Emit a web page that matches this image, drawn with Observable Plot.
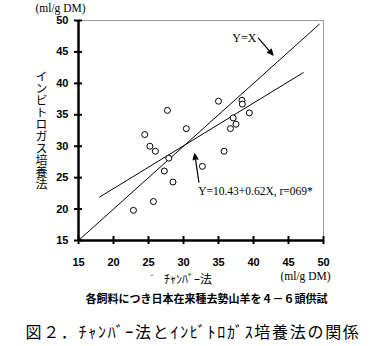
<!DOCTYPE html>
<html><head><meta charset="utf-8">
<script src="https://cdn.jsdelivr.net/npm/d3@7"></script>
<script src="https://cdn.jsdelivr.net/npm/@observablehq/plot@0.6"></script>
<style>
body{margin:0;background:#fff;width:386px;overflow:hidden;}
#chart svg{display:block;}
.cap{font-family:"Noto Sans CJK JP";font-weight:bold;font-size:11px;line-height:16px;height:16px;margin-top:0px;padding-left:27px;text-align:center;color:#000;white-space:nowrap;}
.title{font-family:"Noto Sans CJK JP";font-weight:normal;font-size:16px;line-height:20px;height:20px;margin-top:15px;letter-spacing:1.7px;text-align:center;color:#000;white-space:nowrap;}
</style></head><body>
<div id="chart"></div>
<div class="cap" id="cap"></div>
<div class="title" id="title"></div>
<script>
// Data
const chamber = [22.85,25.7,24.46,25.2,25.98,27.7,27.9,27.26,28.5,30.4,32.7,35.0,35.8,36.7,37.1,37.5,38.35,38.4,39.4];
const invitro = [19.8,21.2,31.85,30.0,29.2,35.7,28.1,26.05,24.3,32.8,26.8,37.16,29.2,32.8,34.5,33.5,37.3,36.7,35.3];
const ticks = [15,20,25,30,35,40,45,50];
const identityX = [15, 49.4];
const identityY = [15, 49.4];
const regX = [18, 47.1];
const regY = [21.9, 41.7];
const arrowX1 = [40.7, 32.2];
const arrowY1 = [47.2, 24.3];
const arrowX2 = [42.8, 31.6];
const arrowY2 = [44.5, 28.8];
const noteText = ["Y=X", "Y=10.43+0.62X, r=069*"];
const noteX = [38.7, 32.1];
const noteY = [47.2, 22.8];
const noteAnchor = ["middle", "start"];
const yLabel = "インビトロガス培養法";
const xLabel = "ﾁｬﾝﾊﾞｰ法";
const unitLabel = "(ml/g DM)";
const caption = "各飼料につき日本在来種去勢山羊を４－６頭供試";
const title = "図２．ﾁｬﾝﾊﾞｰ法とｲﾝﾋﾞﾄﾛｶﾞｽ培養法の関係";

const pts = chamber.map((x, i) => ({x, y: invitro[i]}));
const idLine = identityX.map((x, i) => ({x, y: identityY[i]}));
const regLine = regX.map((x, i) => ({x, y: regY[i]}));
const arrows = arrowX1.map((x1, i) => ({x1, y1: arrowY1[i], x2: arrowX2[i], y2: arrowY2[i]}));
const notes = noteText.map((t, i) => ({t, x: noteX[i], y: noteY[i], a: noteAnchor[i]}));

const serif = "'Liberation Serif', 'DejaVu Serif', serif";
const mid = {textAnchor: "middle", lineAnchor: "middle", fill: "#000"};
const plot = Plot.plot({
  width: 386,
  height: 290,
  marginLeft: 78,
  marginRight: 63,
  marginTop: 20,
  marginBottom: 50,
  style: {fontFamily: "'Liberation Sans', Arial, sans-serif", fontSize: "11px", color: "#000", background: "#fff"},
  x: {domain: [15, 50], axis: null},
  y: {domain: [15, 50], axis: null},
  marks: [
    Plot.frame({stroke: "#999", strokeWidth: 1}),
    Plot.line(idLine, {x: "x", y: "y", stroke: "#000", strokeWidth: 1}),
    Plot.line(regLine, {x: "x", y: "y", stroke: "#000", strokeWidth: 1}),
    Plot.dot(pts, {x: "x", y: "y", r: 3, stroke: "#000", fill: "#fff", strokeWidth: 1}),
    Plot.arrow(arrows, {x1: "x1", y1: "y1", x2: "x2", y2: "y2", stroke: "#000", fill: "#000", strokeWidth: 1.2,
      headLength: 8, headAngle: 45}),
    Plot.ruleX([15], {stroke: "#000", strokeWidth: 2.5}),
    Plot.ruleY([15], {stroke: "#000", strokeWidth: 2.5}),
    Plot.axisX({ticks, label: null, tickSize: 8, dy: -4, tickPadding: 14, strokeWidth: 2, stroke: "#000",
      fontWeight: "bold", fontSize: 11, fill: "#000"}),
    Plot.axisY({ticks, label: null, tickSize: 8, dx: 4, tickPadding: 6, strokeWidth: 2, stroke: "#000",
      fontWeight: "bold", fontSize: 11, fill: "#000"}),
    Plot.text(notes, {x: "x", y: "y", text: "t", textAnchor: "start", fontFamily: serif, fontSize: 11.5, fill: "#000",
      filter: d => d.a === "start"}),
    Plot.text(notes, {x: "x", y: "y", text: "t", textAnchor: "middle", fontFamily: serif, fontSize: 12, fill: "#000",
      filter: d => d.a === "middle"}),
    Plot.text([yLabel], {textAnchor: "middle", fill: "#000", text: d => d, frameAnchor: "left", dx: -37, dy: -4,
      fontFamily: "'Noto Sans CJK JP'", fontSize: 12, letterSpacing: 0.3}),
    Plot.text([unitLabel], {...mid, text: d => d, frameAnchor: "top-left", dx: -18, dy: -12, fontFamily: serif, fontSize: 11.5}),
    Plot.text([unitLabel], {...mid, text: d => d, frameAnchor: "bottom-right", dx: -18, dy: 36, fontFamily: serif, fontSize: 11.5}),
    Plot.text([xLabel], {...mid, text: d => d, frameAnchor: "bottom", dx: -13, dy: 40, fontFamily: "'Noto Sans CJK JP'", fontSize: 12}),
    Plot.text(["ﾞ"], {...mid, text: d => d, frameAnchor: "bottom", dx: -48, dy: 39, fontFamily: "'Noto Sans CJK JP'", fontSize: 10, fill: "#555"})
  ]
});
// write the y-axis title vertically (upright characters), as in the reference
d3.select(plot).selectAll("text").filter(function () { return this.textContent === yLabel; })
  .style("writing-mode", "vertical-rl")
  .style("text-orientation", "upright")
  .attr("dy", null)
  .style("dominant-baseline", "central");
document.getElementById("chart").appendChild(plot);
document.getElementById("cap").textContent = caption;
document.getElementById("title").textContent = title;
</script>
</body></html>
